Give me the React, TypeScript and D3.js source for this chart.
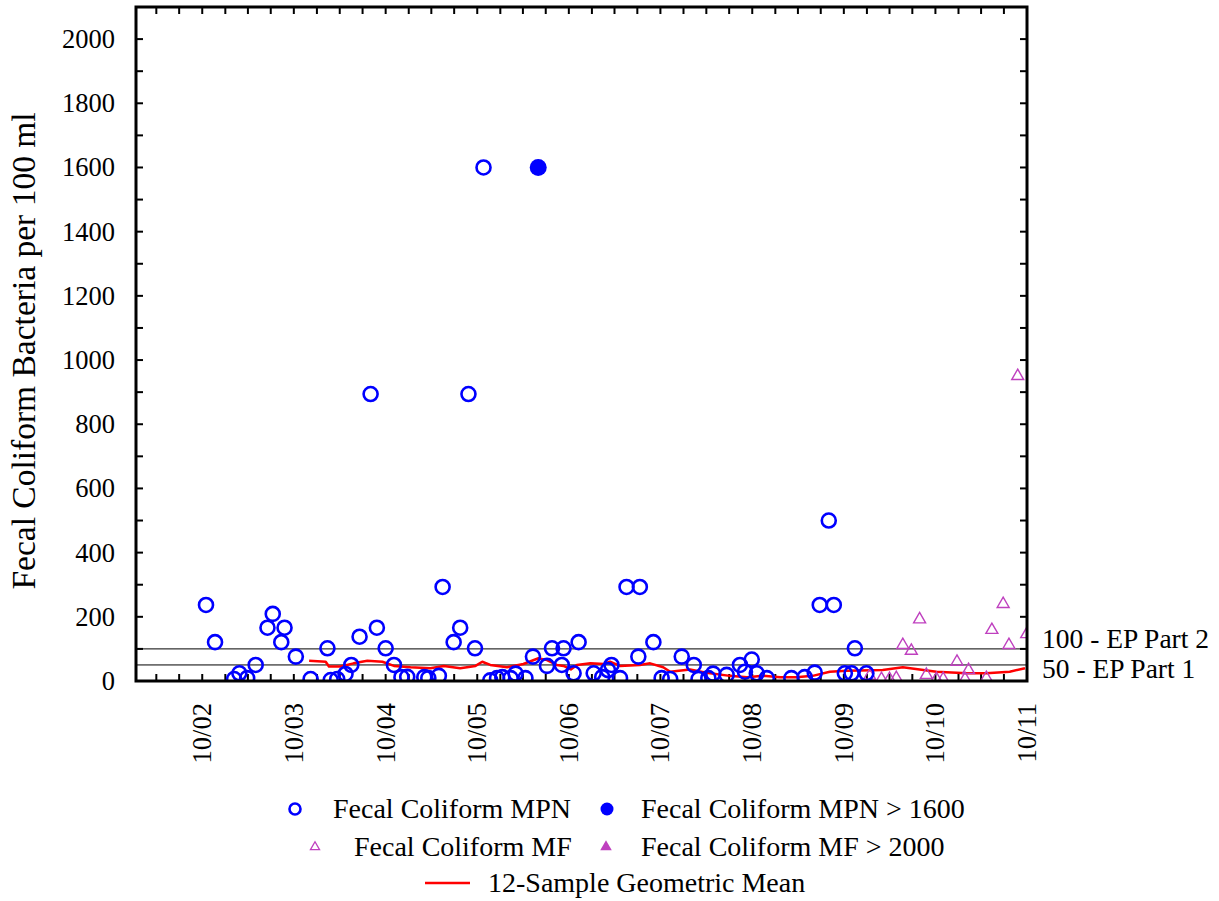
import React from "react";
import * as d3 from "d3";

// Fecal coliform MPN samples
const mpnDates = [
  "2002-10-16", "2002-11-21", "2003-02-05", "2003-02-26", "2003-03-29", "2003-05-02",
  "2003-06-18", "2003-07-09", "2003-08-12", "2003-08-25", "2003-10-09", "2003-12-07",
  "2004-02-12", "2004-02-25", "2004-03-22", "2004-04-24", "2004-05-17", "2004-06-19",
  "2004-08-02", "2004-08-27", "2004-10-01", "2004-11-03", "2004-12-03", "2004-12-26",
  "2005-03-04", "2005-03-20", "2005-05-01", "2005-05-16", "2005-06-29", "2005-07-25",
  "2005-08-27", "2005-09-22", "2005-10-26", "2005-11-22", "2005-12-19", "2006-01-09",
  "2006-02-11", "2006-03-03", "2006-04-11", "2006-05-11", "2006-07-06", "2006-07-26",
  "2006-09-03", "2006-09-10", "2006-10-20", "2006-11-09", "2007-01-08", "2007-02-11",
  "2007-03-06", "2007-03-20", "2007-04-23", "2007-05-19", "2007-07-05", "2007-07-11",
  "2007-09-03", "2007-10-06", "2007-11-09", "2007-12-25", "2008-02-11", "2008-03-01",
  "2008-04-09", "2008-04-28", "2008-06-21", "2008-08-13", "2008-09-02", "2008-09-29",
  "2008-10-19", "2008-11-28", "2009-03-06", "2009-04-28", "2009-06-07", "2009-06-27",
  "2009-08-02", "2009-08-22", "2009-10-05", "2009-11-01", "2009-11-14", "2009-12-30",
];
const mpnValues = [
  237, 121, 6, 24, 9, 50,
  166, 209, 121, 166, 76, 6,
  102, 3, 6, 22, 50, 138,
  894, 166, 102, 50, 12, 13,
  12, 9, 16, 293, 121, 166,
  894, 102, 1600, 2, 9, 12,
  9, 23, 9, 76, 47, 102,
  50, 102, 24, 121, 24, 12,
  34, 50, 9, 293, 76, 293,
  121, 9, 6, 76, 50, 6,
  9, 23, 19, 50, 29, 67,
  24, 9, 9, 12, 26, 237,
  500, 237, 24, 24, 102, 24,
];

// MPN results reported above the 1600 limit
const mpnOverDates = ["2006-06-01"];
const mpnOverValues = [1600];

// Fecal coliform membrane-filtration samples
const mfDates = [
  "2010-01-12", "2010-02-28", "2010-04-01", "2010-04-28", "2010-05-24", "2010-06-27",
  "2010-07-30", "2010-08-26", "2010-10-05", "2010-11-01", "2010-12-26", "2011-01-27",
  "2011-02-10", "2011-04-22", "2011-05-14", "2011-06-28", "2011-07-21", "2011-08-25",
  "2011-09-30",
];
const mfValues = [
  16, 6, 6, 9, 112, 94,
  192, 19, 6, 6, 60, 6,
  34, 9, 159, 240, 112, 950,
  146,
];

// MF results reported above the 2000 limit (none in this record)
const mfOverDates: string[] = [];
const mfOverValues: number[] = [];

// Running 12-sample geometric mean
const geoMeanDates = [
  "2003-12-01", "2004-02-05", "2004-02-18", "2004-04-04", "2004-05-26", "2004-07-20",
  "2004-09-18", "2004-11-03", "2005-01-08", "2005-03-28", "2005-05-21", "2005-07-25",
  "2005-09-24", "2005-10-21", "2005-11-22", "2006-01-28", "2006-04-03", "2006-06-02",
  "2006-07-06", "2006-08-14", "2006-09-10", "2006-10-09", "2006-11-02", "2006-12-26",
  "2007-02-18", "2007-03-14", "2007-04-23", "2007-07-11", "2007-08-21", "2007-10-12",
  "2007-11-09", "2008-01-27", "2008-04-01", "2008-07-04", "2008-09-10", "2008-11-14",
  "2009-01-20", "2009-03-26", "2009-05-30", "2009-08-06", "2009-10-12", "2009-12-03",
  "2010-03-05", "2010-05-24", "2010-07-30", "2010-10-05", "2011-02-03", "2011-04-22",
  "2011-07-24", "2011-09-23",
];
const geoMeanValues = [
  63, 60, 45, 45, 55, 63,
  60, 47, 43, 40, 47, 40,
  47, 60, 50, 43, 53, 71,
  65, 50, 47, 36, 50, 55,
  53, 60, 47, 50, 55, 43,
  29, 36, 26, 16, 12, 16,
  12, 12, 16, 29, 32, 33,
  34, 43, 36, 29, 24, 24,
  29, 40,
];

const yTickValues = [0, 200, 400, 600, 800, 1000, 1200, 1400, 1600, 1800, 2000];
const xTickLabels = ["10/02", "10/03", "10/04", "10/05", "10/06", "10/07", "10/08", "10/09", "10/10", "10/11"];

const thresholdValues = [100, 50];
const thresholdLabels = ["100 - EP Part 2", "50 - EP Part 1"];

const legendLabels = [
  "Fecal Coliform MPN",
  "Fecal Coliform MPN > 1600",
  "Fecal Coliform MF",
  "Fecal Coliform MF > 2000",
  "12-Sample Geometric Mean",
];

const W = 1219;
const H = 901;
const plot = { left: 136, right: 1027, top: 7, bottom: 681 };
const FONT = "'Liberation Serif', 'Times New Roman', serif";
const BLUE = "#0000FF";
const MAGENTA = "#BF40BF";
const RED = "#FF0000";

const parseDay = d3.timeParse("%Y-%m-%d");
const parseMonthYear = d3.timeParse("%m/%y");

export default function App() {
  const x = d3
    .scaleTime()
    .domain([new Date(2002, 0, 10), new Date(2011, 9, 1)])
    .range([plot.left, plot.right]);
  const y = d3.scaleLinear().domain([0, 2100]).range([plot.bottom, plot.top]);

  const mpn = mpnDates.map((d, i) => ({ date: parseDay(d)!, value: mpnValues[i] }));
  const mpnOver = mpnOverDates.map((d, i) => ({ date: parseDay(d)!, value: mpnOverValues[i] }));
  const mf = mfDates.map((d, i) => ({ date: parseDay(d)!, value: mfValues[i] }));
  const mfOver = mfOverDates.map((d, i) => ({ date: parseDay(d)!, value: mfOverValues[i] }));
  const geo = geoMeanDates.map((d, i) => ({ date: parseDay(d)!, value: geoMeanValues[i] }));

  const line = d3
    .line<{ date: Date; value: number }>()
    .x((d) => x(d.date))
    .y((d) => y(d.value));

  const triBig = d3.symbol(d3.symbolTriangle, 62)()!;
  const triLegendOpen = d3.symbol(d3.symbolTriangle, 36)()!;
  const triLegendFilled = d3.symbol(d3.symbolTriangle, 58)()!;

  const quarterTicks = d3.timeMonth.every(3)!.range(x.domain()[0], d3.timeDay.offset(x.domain()[1], 1));
  const minorY = d3.range(0, 2101, 100);
  const labelDates = xTickLabels.map((l) => parseMonthYear(l)!);

  const tickLen = 7;

  return (
    <svg
      width={W}
      height={H}
      viewBox={`0 0 ${W} ${H}`}
      style={{ position: "absolute", left: 0, top: 0, background: "#fff" }}
      fontFamily={FONT}
    >
      <defs>
        <clipPath id="plot-clip">
          <rect
            x={plot.left}
            y={plot.top}
            width={plot.right - plot.left}
            height={plot.bottom - plot.top}
          />
        </clipPath>
      </defs>
      <rect x={0} y={0} width={W} height={H} fill="#fff" />

      {/* reference thresholds */}
      {thresholdValues.map((v, i) => (
        <g key={`thr-${v}`}>
          <line
            x1={plot.left}
            x2={plot.right}
            y1={y(v)}
            y2={y(v)}
            stroke="#000"
            strokeWidth={1}
          />
          <text x={1042} y={i === 0 ? 648 : 678} fontSize={27.5} fill="#000">
            {thresholdLabels[i]}
          </text>
        </g>
      ))}

      {/* y ticks on both vertical edges */}
      {minorY.map((v) => (
        <g key={`yt-${v}`}>
          <line x1={plot.left} x2={plot.left + tickLen} y1={y(v)} y2={y(v)} stroke="#000" strokeWidth={2} />
          <line x1={plot.right} x2={plot.right - tickLen} y1={y(v)} y2={y(v)} stroke="#000" strokeWidth={2} />
        </g>
      ))}
      {yTickValues.map((v) => (
        <text
          key={`yl-${v}`}
          x={115}
          y={y(v)}
          dy="0.34em"
          textAnchor="end"
          fontSize={26.5}
          fill="#000"
        >
          {v}
        </text>
      ))}

      {/* quarterly x ticks on top and bottom */}
      {quarterTicks.map((d) => (
        <g key={`xt-${d.getTime()}`}>
          <line x1={x(d)} x2={x(d)} y1={plot.bottom} y2={plot.bottom - tickLen} stroke="#000" strokeWidth={2} />
          <line x1={x(d)} x2={x(d)} y1={plot.top} y2={plot.top + tickLen} stroke="#000" strokeWidth={2} />
        </g>
      ))}
      {labelDates.map((d, i) => (
        <text
          key={`xl-${i}`}
          transform={`translate(${x(d)},703) rotate(-90)`}
          dy="0.34em"
          textAnchor="end"
          fontSize={26.5}
          fill="#000"
        >
          {xTickLabels[i]}
        </text>
      ))}

      {/* data */}
      <g clipPath="url(#plot-clip)">
        <path d={line(geo) ?? ""} fill="none" stroke={RED} strokeWidth={2.5} strokeLinejoin="round" />
        {mf.map((d, i) => (
          <path
            key={`mf-${i}`}
            d={triBig}
            transform={`translate(${x(d.date)},${y(d.value)})`}
            fill="none"
            stroke={MAGENTA}
            strokeWidth={1.4}
          />
        ))}
        {mfOver.map((d, i) => (
          <path
            key={`mfo-${i}`}
            d={triBig}
            transform={`translate(${x(d.date)},${y(d.value)})`}
            fill={MAGENTA}
          />
        ))}
        {mpn.map((d, i) => (
          <circle
            key={`mpn-${i}`}
            cx={x(d.date)}
            cy={y(d.value)}
            r={7}
            fill="none"
            stroke={BLUE}
            strokeWidth={2.6}
          />
        ))}
        {mpnOver.map((d, i) => (
          <circle key={`mpno-${i}`} cx={x(d.date)} cy={y(d.value)} r={8.5} fill={BLUE} />
        ))}
      </g>

      {/* frame */}
      <rect
        x={plot.left}
        y={plot.top}
        width={plot.right - plot.left}
        height={plot.bottom - plot.top}
        fill="none"
        stroke="#000"
        strokeWidth={3}
      />

      {/* axis title */}
      <text
        transform="translate(35,351) rotate(-90)"
        textAnchor="middle"
        fontSize={33.5}
        fill="#000"
      >
        Fecal Coliform Bacteria per 100 ml
      </text>

      {/* legend */}
      <g fontSize={28} fill="#000">
        <circle cx={295} cy={809} r={5.5} fill="none" stroke={BLUE} strokeWidth={2.6} />
        <text x={333} y={818}>{legendLabels[0]}</text>
        <circle cx={607} cy={809} r={6.5} fill={BLUE} />
        <text x={641} y={818}>{legendLabels[1]}</text>

        <path d={triLegendOpen} transform="translate(315,847)" fill="none" stroke={MAGENTA} strokeWidth={1.3} />
        <text x={354} y={856}>{legendLabels[2]}</text>
        <path d={triLegendFilled} transform="translate(606,847)" fill={MAGENTA} />
        <text x={641} y={856}>{legendLabels[3]}</text>

        <line x1={425} x2={470} y1={883} y2={883} stroke={RED} strokeWidth={2.5} />
        <text x={488} y={892}>{legendLabels[4]}</text>
      </g>
    </svg>
  );
}
